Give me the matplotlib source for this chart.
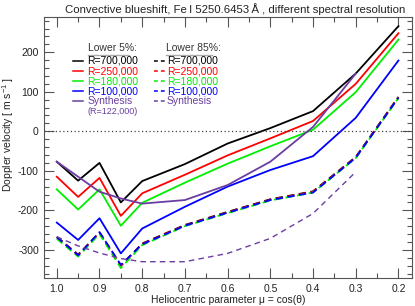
import numpy as np
import matplotlib
matplotlib.use("Agg")
import matplotlib.pyplot as plt
from matplotlib.ticker import MultipleLocator

plt.rcParams['font.family'] = ['Liberation Sans', 'DejaVu Sans']
plt.rcParams['mathtext.fontset'] = 'custom'
plt.rcParams['mathtext.rm'] = 'Liberation Sans'
plt.rcParams['mathtext.it'] = 'Liberation Sans'
plt.rcParams['axes.unicode_minus'] = False

# Data
mu = [1.0, 0.95, 0.9, 0.85, 0.8, 0.7, 0.6, 0.5, 0.4, 0.3, 0.2]
mu_syn = [1.0, 0.95, 0.9, 0.85, 0.8, 0.7, 0.6, 0.5, 0.4, 0.3]

low5_700 = [-77, -125, -80, -180, -126, -83, -31, 8, 51, 146, 266]
low5_250 = [-115, -166, -118, -214, -157, -110, -61, -18, 26, 120, 248]
low5_180 = [-147, -198, -147, -239, -181, -130, -82, -38, 4, 99, 232]
low5_100 = [-231, -275, -220, -309, -246, -191, -140, -98, -63, 34, 179]
low5_syn = [-77, -115, -153, -170, -183, -174, -136, -77, 11, 146]

low85_700 = [-267, -312, -256, -340, -284, -237, -204, -172, -152, -65, 87]
low85_250 = [-268, -313, -257, -341, -285, -238, -205, -173, -153, -66, 86]
low85_180 = [-272, -317, -260, -346, -288, -240, -207, -175, -155, -68, 84]
low85_100 = [-268, -314, -255, -338, -286, -239, -206, -174, -155, -67, 85]
low85_syn = [-267, -290, -308, -322, -330, -330, -309, -271, -208, -103]

labels = ['R=700,000', 'R=250,000', 'R=180,000', 'R=100,000', 'Synthesis']
colors = ['black', '#ff0000', '#00ee00', '#0000ff', '#6a3ea1']

fig = plt.figure(figsize=(4.15, 3.06), dpi=100)
ax = fig.add_axes([0.107, 0.0905, 0.885, 0.8525])

solid = [low5_700, low5_250, low5_180, low5_100]
dashed = [low85_700, low85_250, low85_180, low85_100]
for vals, c in zip(solid, colors[:4]):
    ax.plot(mu, vals, color=c, lw=1.3)
ax.plot(mu_syn, low5_syn, color=colors[4], lw=1.3)
for vals, c in zip(dashed, colors[:4]):
    ax.plot(mu, vals, color=c, lw=1.3, ls=(0, (4, 2.5)))
ax.plot(mu_syn, low85_syn, color=colors[4], lw=1.0, ls=(0, (4, 3)))

ax.axhline(0, color='#444444', lw=0.9, ls=(0, (1, 2)))

ax.set_xlim(1.029, 0.169)
ax.set_ylim(-372, 288)
ax.xaxis.set_major_locator(MultipleLocator(0.1))
ax.xaxis.set_minor_locator(MultipleLocator(0.05))
ax.yaxis.set_major_locator(MultipleLocator(100))
ax.yaxis.set_minor_locator(MultipleLocator(20))
ax.tick_params(which='both', direction='in', top=True, right=True,
               color='#555555', labelsize=7.5, labelcolor='#222222')
ax.tick_params(which='major', length=7, width=0.8, pad=4)
ax.tick_params(which='minor', length=3.5, width=0.8)
for s in ax.spines.values():
    s.set_color('#555555')
    s.set_linewidth(0.8)
ax.xaxis.set_major_formatter(matplotlib.ticker.FormatStrFormatter('%.1f'))

ax.set_xlabel('Heliocentric parameter \u03bc = cos(\u03b8)', fontsize=7.5, color='#222222', labelpad=1)
fig.text(0.02, 0.56, 'Doppler velocity [ m s$^{-1}$ ]', rotation=90, ha='center', va='center',
         fontsize=7.5, color='#222222')
fig.text(0.567, 0.972, 'Convective blueshift, Fe\u2009I 5250.6453\u2009\u00c5 , different spectral resolution',
         ha='center', va='center', fontsize=8.2, color='#222222')

# legend drawn by hand
def ax_xy(px, py):
    return (px - 44.3) / 367.4, (278.3 - py) / 261.0

tr = ax.transAxes
rows = [60.7, 71.0, 81.0, 91.3, 101.3]
for col, (x0, x1, xt, head, hx, ls) in enumerate([
        (73, 83, 87, 'Lower 5%:', 87.5, '-'),
        (154, 165, 167, 'Lower 85%:', 166, (0, (2.5, 2)))]):
    hxa, hya = ax_xy(hx, 48)
    t = ax.text(hxa, hya, head, transform=tr, fontsize=7.5, color='#333333', va='center')
    ua, uy = ax_xy(hx, 54.5)
    ua2, _ = ax_xy(hx + (41 if col == 0 else 46), 54.5)
    ax.plot([ua, ua2], [uy, uy], transform=tr, color='#aaaaaa', lw=1.0)
    for r, lab, c in zip(rows, labels, colors):
        xa, ya = ax_xy(x0, r)
        xb, _ = ax_xy(x1, r)
        xc, _ = ax_xy(xt, r)
        ax.plot([xa, xb], [ya, ya], transform=tr, color=c, lw=1.1, ls=ls)
        ax.text(xc, ya, lab, transform=tr, fontsize=7.5, color=c, va='center')
xa, ya = ax_xy(87, 111.7)
ax.text(xa, ya, '(R=122,000)', transform=tr, fontsize=6.5, color=colors[4], va='center')

fig.savefig('out.png', dpi=100)
